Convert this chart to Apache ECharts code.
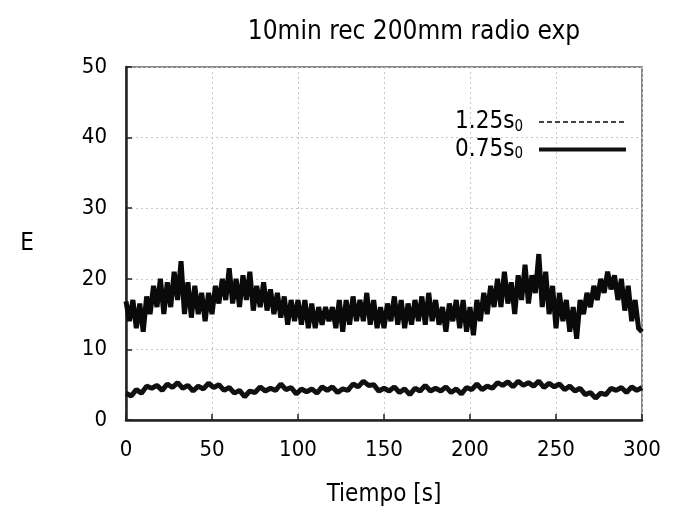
<!DOCTYPE html>
<html>
<head>
<meta charset="utf-8">
<script src="https://cdn.jsdelivr.net/npm/echarts@6/dist/echarts.min.js"></script>
<style>html,body{margin:0;padding:0;background:#fff;}#c{width:675px;height:513px;}</style>
</head>
<body>
<div id="c"></div>
<script>
// Upper band series (0.75 s0), sampled every 2 s from t = 0 to 300
const upperStep = 2;
const upperValues = [
16.8,14,17,13,16.5,12.5,17.5,15,19,16,20,15,19.5,16,21,17,22.5,15,19.5,14.5,
19,15,18,14,18,15,19,16.5,20,17,21.5,16.5,20,16,20.5,17,21,15.5,19,16,
19.5,15.5,18.5,15,18,14.5,17.5,13.5,17,14,17,13.5,17,13,16.5,13,16,13.5,16,14,
16,13,17,12.5,17,13.5,17.5,14,17,14,18,13.5,17,13,16,13,16.5,14,17.5,13.5,
17,13,16.5,13.5,17,14,17.5,13.5,18,14,17,13.5,16,12.5,16.5,14,17,13,17,12.5,
16,12,17,14,18,15,19,16,20,16,21,16.5,19.5,15,20.5,17,22,16.5,20.5,18,
23.5,16,21,15,19,13,18,14,17,12.5,16,11.5,17,15,18,16,19,17,20,18,
21,18.5,20.5,17,20,15.5,19,14,17,13,12.5
];
// Lower series (1.25 s0), sampled every 3 s from t = 0 to 300
const lowerStep = 3;
const lowerValues = [
3.8,3.4,4.3,3.8,4.8,4.5,4.9,4.2,5.1,4.6,5.3,4.5,4.9,4.1,4.8,4.4,5.2,4.6,5.0,4.2,
4.6,3.8,4.2,3.3,4.1,3.9,4.7,4.1,4.5,4.2,5.1,4.3,4.6,3.7,4.4,4.0,4.4,3.8,4.7,4.2,
4.7,3.9,4.4,4.2,5.1,4.7,5.5,4.9,5.0,4.1,4.5,4.1,4.7,3.9,4.4,3.6,4.5,4.1,4.9,4.1,
4.5,4.1,4.7,3.9,4.4,3.7,4.6,4.3,5.1,4.3,4.8,4.5,5.3,4.9,5.4,4.7,5.5,4.9,5.3,4.8,
5.5,4.6,5.2,4.7,5.1,4.3,4.8,4.1,4.5,3.6,3.9,3.1,3.8,3.6,4.5,4.2,4.6,3.9,4.7,4.2,
4.6
];
const xTicks = [0, 50, 100, 150, 200, 250, 300];
const yTicks = [0, 10, 20, 30, 40, 50];
const seriesNames = ['1.25s0', '0.75s0'];

const upperData = upperValues.map((v, i) => [i * upperStep, v]);
const lowerData = lowerValues.map((v, i) => [i * lowerStep, v]);

const FONT = 'DejaVu Sans Condensed, DejaVu Sans, Liberation Sans, sans-serif';
const chart = echarts.init(document.getElementById('c'), null, {renderer: 'canvas'});
chart.setOption({
  animation: false,
  backgroundColor: '#fff',
  title: {
    text: '10min rec 200mm radio exp',
    left: 409, top: 14, textAlign: 'center',
    textStyle: {fontFamily: FONT, fontSize: 26, fontWeight: 'normal', color: '#000'}
  },
  grid: {left: 126, right: 33, top: 67, bottom: 93, show: true, borderColor: '#888', borderWidth: 2, backgroundColor: 'transparent'},
  legend: {
    right: 42, top: 105, orient: 'vertical', align: 'right',
    itemWidth: 87, itemHeight: 14, itemGap: 3,
    formatter: function (n) { return n.replace(/0$/, '{s|0}'); },
    textStyle: {fontFamily: FONT, fontSize: 24, color: '#000', padding: [0, 11, 0, 0],
      rich: {s: {fontFamily: FONT, fontSize: 15, color: '#000', padding: [10, 0, 0, 0]}}},
    data: [
      {name: seriesNames[0], itemStyle: {opacity: 0}, lineStyle: {type: [5, 3], width: 2, color: '#444'}},
      {name: seriesNames[1], itemStyle: {opacity: 0}, lineStyle: {type: 'solid', width: 4, color: '#111'}}
    ]
  },
  xAxis: {
    type: 'value', min: 0, max: 300, interval: 50,
    axisLine: {show: true, lineStyle: {color: '#222', width: 2.5}},
    axisTick: {show: true, inside: true, length: 6, lineStyle: {color: '#222', width: 1.5}},
    axisLabel: {fontFamily: FONT, fontSize: 22, color: '#000', margin: 19,
      formatter: v => xTicks.indexOf(v) >= 0 ? String(v) : ''},
    splitLine: {show: true, lineStyle: {color: '#c8c8c8', type: [2, 3], width: 1}},
    name: 'Tiempo [s]', nameLocation: 'middle', nameGap: 63,
    nameTextStyle: {fontFamily: FONT, fontSize: 24, color: '#000'}
  },
  yAxis: {
    type: 'value', min: 0, max: 50, interval: 10,
    axisLine: {show: true, lineStyle: {color: '#222', width: 2.5}},
    axisTick: {show: true, inside: true, length: 6, lineStyle: {color: '#222', width: 1.5}},
    axisLabel: {fontFamily: FONT, fontSize: 22, color: '#000', margin: 19,
      formatter: v => yTicks.indexOf(v) >= 0 ? String(v) : ''},
    splitLine: {show: true, lineStyle: {color: '#c8c8c8', type: [2, 3], width: 1}},
    name: 'E', nameLocation: 'middle', nameGap: 92, nameRotate: 0,
    nameTextStyle: {fontFamily: FONT, fontSize: 24, color: '#000'}
  },
  series: [
    {name: seriesNames[0], type: 'line', data: lowerData, showSymbol: false,
     lineStyle: {color: '#111', width: 5}, z: 3},
    {name: seriesNames[1], type: 'line', data: upperData, showSymbol: false,
     lineStyle: {color: '#0a0a0a', width: 5, join: 'miter', miterLimit: 4}, z: 4}
  ]
});
</script>
</body>
</html>
